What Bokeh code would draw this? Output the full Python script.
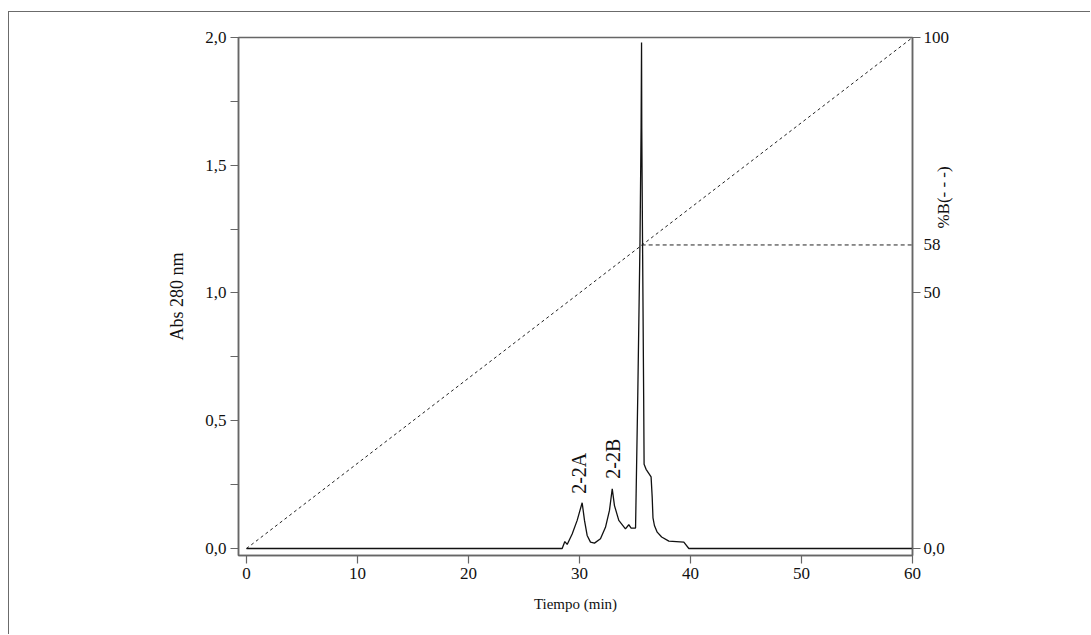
import math
from bokeh.plotting import figure
from bokeh.models import Range1d, LinearAxis, FixedTicker, ColumnDataSource
from bokeh.core.properties import value
from bokeh.embed import file_html
from bokeh.resources import INLINE

# ---- data ----
time_min = [0, 28.44, 28.68, 28.89, 29.34, 29.79, 30.05, 30.24, 30.45, 30.69, 30.99, 31.35,
            31.89, 32.34, 32.7, 32.95, 33.15, 33.54, 34.14, 34.44, 34.65, 34.98, 35.05,
            35.25, 35.45, 35.55, 35.59, 35.61, 35.68, 35.78, 35.82, 36.0, 36.45, 36.55,
            36.62, 36.75, 37.0, 37.4, 38.05, 39.4, 39.85, 60]
abs280 = [0.0, 0.0, 0.027, 0.016, 0.057, 0.11, 0.15, 0.179, 0.11, 0.051, 0.025, 0.021,
          0.038, 0.083, 0.149, 0.234, 0.168, 0.11, 0.077, 0.093, 0.08, 0.08, 0.08,
          0.6, 1.2, 1.65, 1.98, 1.65, 1.2, 0.6, 0.33, 0.31, 0.28, 0.2,
          0.12, 0.09, 0.064, 0.045, 0.029, 0.025, 0.0, 0.0]

gradient_t = [0, 60]
gradient_pct = [0, 100]

hold_t = [35.6, 60]
hold_pct = [59.4, 59.4]
hold_label = "58"

peak_names = ["2-2A", "2-2B"]
peak_label_t = [30.0, 33.0]
peak_label_abs = [0.214, 0.273]

x_ticks = [0, 10, 20, 30, 40, 50, 60]
y_ticks = [0.0, 0.25, 0.5, 0.75, 1.0, 1.25, 1.5, 1.75, 2.0]
y_tick_labels = ["0,0", "", "0,5", "", "1,0", "", "1,5", "", "2,0"]
pct_ticks = [0, 50, 100]
pct_tick_labels = ["0,0", "50", "100"]
pct_title = "%B(- - -)"
pct_title_start = 62.6

FONT = "Liberation Serif"
GREY = "#666666"
TXT = "#111111"

p = figure(width=1082, height=623,
           x_range=Range1d(-0.72, 60), y_range=Range1d(-0.0274, 2.0),
           output_backend="svg", toolbar_location=None,
           min_border_left=229, min_border_right=179,
           min_border_top=25, min_border_bottom=80)
p.extra_y_ranges = {"pct": Range1d(-1.37, 100)}
p.xgrid.visible = False
p.ygrid.visible = False
p.outline_line_color = GREY
p.outline_line_width = 1.5
p.background_fill_color = "white"
p.styles = {"border-top": "1px solid #6b6b6b", "border-left": "1px solid #6b6b6b",
            "margin-top": "11px", "margin-left": "8px"}

# x axis
xa = p.xaxis[0]
xa.ticker = FixedTicker(ticks=x_ticks)
xa.axis_label = "Tiempo (min)"
# y axis
ya = p.yaxis[0]
ya.ticker = FixedTicker(ticks=y_ticks)
ya.major_label_overrides = {t: l for t, l in zip(y_ticks, y_tick_labels)}
ya.axis_label = "Abs 280 nm"

# right axis: labels incl. the hold level; tick marks only at 0, 50, 100
r_ticks = pct_ticks + [hold_pct[0]]
r_labels = pct_tick_labels + [hold_label]
ra = LinearAxis(y_range_name="pct")
ra.ticker = FixedTicker(ticks=r_ticks, minor_ticks=pct_ticks)
ra.major_label_overrides = {t: l for t, l in zip(r_ticks, r_labels)}
p.add_layout(ra, "right")

for ax in [xa, ya, ra]:
    ax.axis_line_color = GREY
    ax.axis_line_width = 1.5
    ax.major_tick_line_color = GREY
    ax.major_tick_line_width = 1.2
    ax.major_tick_out = 8
    ax.major_tick_in = 0
    ax.minor_tick_line_color = None
    ax.major_label_text_font = FONT
    ax.major_label_text_font_size = "17px"
    ax.major_label_text_color = TXT
    ax.axis_label_text_font = FONT
    ax.axis_label_text_font_size = "15px"
    ax.axis_label_text_font_style = "normal"
    ax.axis_label_text_color = TXT
    ax.major_label_standoff = 4
xa.axis_label_standoff = 14
ya.axis_label_text_font_size = "18px"
ya.axis_label_standoff = 15
ra.major_label_standoff = 3
ra.major_tick_line_color = None
ra.minor_tick_line_color = GREY
ra.minor_tick_line_width = 1.2
ra.minor_tick_out = 8
ra.minor_tick_in = 0

# second right axis carrying only the rotated %B title as a tick label
ra2 = LinearAxis(y_range_name="pct")
ra2.ticker = FixedTicker(ticks=[pct_title_start])
ra2.major_label_overrides = {pct_title_start: pct_title}
ra2.major_label_orientation = math.pi / 2
ra2.axis_line_color = None
ra2.major_tick_line_color = None
ra2.minor_tick_line_color = None
ra2.major_tick_out = 0
ra2.major_tick_in = 0
ra2.major_label_standoff = -9
ra2.major_label_text_font = FONT
ra2.major_label_text_font_size = "17px"
ra2.major_label_text_color = TXT
p.add_layout(ra2, "right")

# gradient lines
p.line(gradient_t, gradient_pct, y_range_name="pct", line_color="#222222",
       line_width=1, line_dash="3 3")
p.line(hold_t, hold_pct, y_range_name="pct", line_color="#222222",
       line_width=1, line_dash="4 3")

# chromatogram
p.line(time_min, abs280, line_color=TXT, line_width=1.3)

# peak labels
src = ColumnDataSource(dict(x=peak_label_t, y=peak_label_abs, t=peak_names))
p.text(x="x", y="y", text="t", source=src, angle=math.pi / 2,
       text_align="left", text_baseline="middle",
       text_font=value(FONT), text_font_size="20px", text_color=TXT)

open("out.html", "w").write(file_html(p, INLINE))
